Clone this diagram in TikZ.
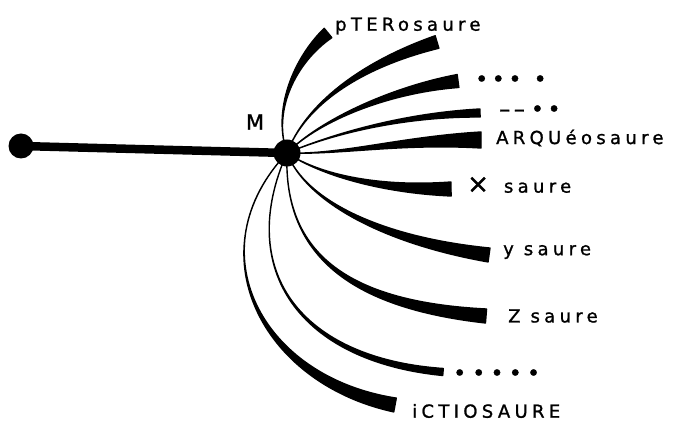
\documentclass[tikz,border=0pt]{standalone}
\usepackage{fontspec}
\newfontfamily\handfont{DejaVu Sans}[LetterSpace=24,FakeBold=1.2]
\usetikzlibrary{calc,positioning}

\tikzset{
  dot/.style={circle,fill,inner sep=0pt,minimum size=#1},
  stem/.style={line width=8.5pt},
  branch/.style={line width=1.4pt,line join=round},
  lab/.style={inner sep=0pt,font=\handfont\fontsize{18}{18}\selectfont},
  dotlab/.style={inner sep=0pt,font=\handfont\fontsize{22}{22}\selectfont},
}

\begin{document}
\begin{tikzpicture}[x=1pt,y=-1pt]
\useasboundingbox (0,0) rectangle (686,427);
% trunk
\node[dot=25pt] (start) at (21,146) {};
\node[dot=27pt] (M) at (287,153) {};
\draw[stem] (start.center) -- (M.center);
\node[font=\handfont\fontsize{21}{21}\selectfont] (mlab) at (255,122) {M};
% branch ends
\foreach \n/\p in {0/{328,33},1/{437,42},2/{458,81},3/{480,113},4/{481,140},5/{451,189},6/{489,255},7/{486,316},8/{443,372},9/{395,405}}{\coordinate (e\n) at (\p);}
% branches, thin at M and thick at the end
\foreach \e/\ca/\cb/\w in {e0/{272,110}/{295,60}/6pt,e1/{305,105}/{360,65}/6.5pt,e2/{320,120}/{390,90}/6.5pt,e3/{330,135}/{400,115}/4pt,e4/{340,155}/{400,140}/8pt,e5/{320,175}/{380,190}/7pt,e6/{305,200}/{380,240}/7pt,e7/{283,255}/{350,305}/7pt,e8/{235,270}/{300,360}/3.5pt,e9/{195,250}/{260,380}/7pt}
  \filldraw[branch] (M.center) .. controls (\ca) and ($(\cb)!0.4*\w!-90:(\e)$) .. ($(\e)!\w!90:(\cb)$) -- ($(\e)!\w!-90:(\cb)$) .. controls ($(\cb)!0.4*\w!90:(\e)$) and (\ca) .. (M.center) -- cycle;
% labels
\node[lab, right=7pt of e0, yshift=7pt] (ptero) {pTERosaure};
\node[dotlab, right=17pt of e2] (dotsa) {•\,•\,•\;\;•};
\node[dotlab, right=19pt of e3, yshift=2pt] (dotsb) {–\,–\;•\,•};
\node[lab, right=15pt of e4, yshift=2pt] (arqueo) {ARQUéosaure};
\node[lab, right=16pt of e5, yshift=4pt] (xsaure) {{\fontsize{26}{26}\selectfont×}\; saure};
\node[lab, right=14pt of e6, yshift=3pt] (ysaure) {y saure};
\node[lab, right=22pt of e7] (zsaure) {Z saure};
\node[dotlab, right=10pt of e8, yshift=-3pt] (dotsc) {•\;••••};
\node[lab, right=17pt of e9, yshift=-6pt] (ictio) {iCTIOSAURE};
\end{tikzpicture}
\end{document}
